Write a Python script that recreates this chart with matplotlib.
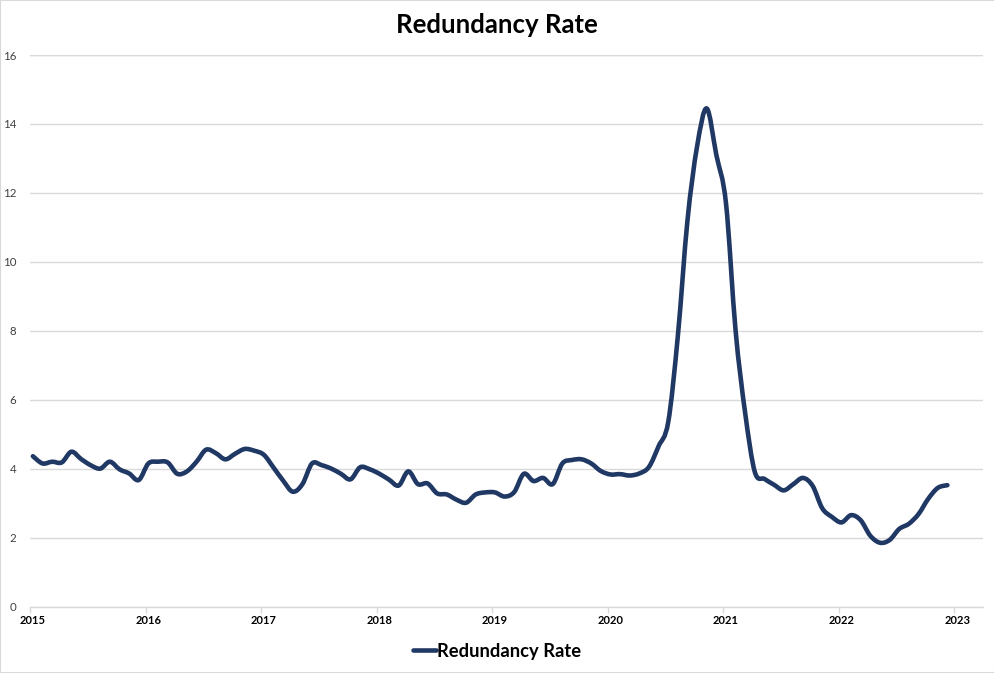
import numpy as np
import matplotlib
matplotlib.use("Agg")
import matplotlib.pyplot as plt
import matplotlib.transforms as mtransforms
from matplotlib.path import Path
from matplotlib.patches import PathPatch, Rectangle
from matplotlib.lines import Line2D

# ---------------- data ----------------
title = "Redundancy Rate"
series_name = "Redundancy Rate"
start_year = 2015
rate = [
    4.36, 4.15, 4.20, 4.18, 4.49, 4.28, 4.10, 4.00, 4.20, 3.98, 3.86, 3.67,   # 2015
    4.15, 4.20, 4.18, 3.85, 3.92, 4.20, 4.55, 4.45, 4.27, 4.43, 4.57, 4.52,   # 2016
    4.40, 4.03, 3.65, 3.33, 3.55, 4.15, 4.10, 4.00, 3.85, 3.69, 4.04, 3.98,   # 2017
    3.85, 3.68, 3.51, 3.92, 3.55, 3.57, 3.28, 3.25, 3.10, 3.01, 3.25, 3.31,   # 2018
    3.31, 3.19, 3.32, 3.85, 3.64, 3.73, 3.55, 4.15, 4.25, 4.27, 4.15, 3.93,   # 2019
    3.83, 3.84, 3.80, 3.86, 4.05, 4.65, 5.35, 7.85, 11.2, 13.35, 14.45, 13.1, # 2020
    11.7, 8.00, 5.60, 3.90, 3.70, 3.53, 3.37, 3.55, 3.73, 3.50, 2.85, 2.60,   # 2021
    2.44, 2.65, 2.50, 2.05, 1.85, 1.93, 2.25, 2.40, 2.68, 3.12, 3.44, 3.52,   # 2022
]
y_ticks = [0, 2, 4, 6, 8, 10, 12, 14, 16]
x_ticks = [2015, 2016, 2017, 2018, 2019, 2020, 2021, 2022, 2023]

# ---------------- style ----------------
LINE_COLOR = "#203864"
GRID_COLOR = "#D9D9D9"
FONT = ["Lato", "DejaVu Sans"]
plt.rcParams["font.family"] = FONT

x = start_year + (np.arange(len(rate)) + 0.3) / 12.0
y = np.asarray(rate, dtype=float)


def smooth_path(xs, ys):
    pts = np.column_stack([xs, ys])
    n = len(pts)
    verts = [pts[0]]
    codes = [Path.MOVETO]
    for i in range(n - 1):
        p0 = pts[i - 1] if i > 0 else pts[i]
        p1 = pts[i]
        p2 = pts[i + 1]
        p3 = pts[i + 2] if i + 2 < n else pts[i + 1]
        c1 = p1 + (p2 - p0) / 6.0
        c2 = p2 - (p3 - p1) / 6.0
        verts += [c1, c2, p2]
        codes += [Path.CURVE4] * 3
    return Path(np.array(verts), codes)


fig = plt.figure(figsize=(9.95, 6.73), dpi=100)
top_px, bot_px = 55.0, 606.5
ax = fig.add_axes([30 / 995, 1 - bot_px / 673, (983 - 30) / 995, (bot_px - top_px) / 673])

patch = PathPatch(smooth_path(x, y), facecolor="none", edgecolor=LINE_COLOR,
                  linewidth=3.3, capstyle="round", joinstyle="round",
                  transform=ax.transData, zorder=3)
ax.add_patch(patch)

ax.set_xlim(2015, 2023.25)
ax.set_ylim(0, 16)
ax.set_yticks(y_ticks)
ax.set_yticklabels([str(v) for v in y_ticks])
ax.set_xticks(x_ticks)
ax.set_xticklabels([str(v) for v in x_ticks], fontweight="bold")

ax.grid(axis="y", color=GRID_COLOR, linewidth=1.0, zorder=0)
ax.set_axisbelow(True)
for s in ["top", "right", "left"]:
    ax.spines[s].set_visible(False)
ax.spines["bottom"].set_color(GRID_COLOR)
ax.spines["bottom"].set_linewidth(1.0)
ax.tick_params(axis="y", length=0, pad=10, labelsize=8.3, labelcolor="#404040")
ax.tick_params(axis="x", length=4, width=1.0, color=GRID_COLOR, pad=2,
               labelsize=8, labelcolor="#000000")
ax.axhline(16, color=GRID_COLOR, linewidth=1.0, zorder=0)

shift = mtransforms.ScaledTranslation(3 / 100, 0, fig.dpi_scale_trans)
for lab in ax.get_xticklabels():
    lab.set_transform(lab.get_transform() + shift)

fig.text(497 / 995, 1 - 25 / 673, title, ha="center", va="center",
         fontsize=18.5, fontweight="bold", color="#000000")

handle = Line2D([], [], color=LINE_COLOR, linewidth=3.3, solid_capstyle="round")
fig.legend([handle], [series_name], loc="center", bbox_to_anchor=(497 / 995, 1 - 651 / 673),
           frameon=False, prop={"weight": "bold", "size": 13.2, "family": FONT},
           handlelength=1.3, handletextpad=0.05)

fig.patches.append(Rectangle((0, 0), 1, 1, transform=fig.transFigure, fill=False,
                             edgecolor="#D9D9D9", linewidth=1.5))

fig.savefig("out.png", dpi=100)
